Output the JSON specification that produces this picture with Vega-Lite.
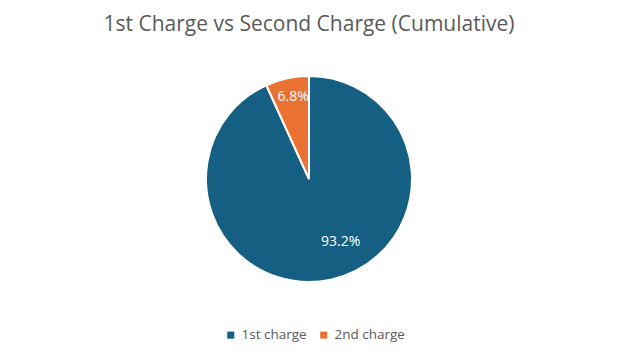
{
  "$schema": "https://vega.github.io/schema/vega-lite/v6.json",
  "autosize": "none",
  "width": 618,
  "height": 358,
  "padding": 0,
  "background": "white",
  "config": {"view": {"stroke": null}, "font": "Open Sans"},
  "title": {
    "text": "1st Charge vs Second Charge (Cumulative)",
    "orient": "top",
    "anchor": "middle",
    "frame": "group",
    "offset": -33,
    "dy": 19,
    "baseline": "alphabetic",
    "fontSize": 21,
    "fontWeight": "normal",
    "color": "#595959",
    "font": "Open Sans"
  },
  "data": {
    "values": [
      {"category": "1st charge", "share": 93.2, "label": "93.2%"},
      {"category": "2nd charge", "share": 6.8, "label": "6.8%"}
    ]
  },
  "encoding": {
    "theta": {"field": "share", "type": "quantitative", "stack": true},
    "order": {"field": "category", "type": "nominal"}
  },
  "layer": [
    {
      "mark": {"type": "arc", "radius": 103, "stroke": "white", "strokeWidth": 2},
      "encoding": {
        "color": {
          "field": "category",
          "type": "nominal",
          "scale": {"domain": ["1st charge", "2nd charge"], "range": ["#156082", "#E97132"]},
          "legend": {
            "title": null,
            "orient": "none",
            "direction": "horizontal",
            "legendX": 224,
            "legendY": 328,
            "symbolType": "square",
            "symbolSize": 50,
            "symbolStrokeWidth": 0,
            "labelFontSize": 13.5,
            "labelColor": "#595959",
            "labelFont": "Open Sans",
            "labelOffset": 4,
            "columnPadding": 10
          }
        }
      }
    },
    {
      "mark": {"type": "text", "radius": 84, "dx": 2, "fontSize": 14, "color": "white", "align": "center", "baseline": "middle", "font": "Open Sans"},
      "encoding": {
        "text": {"field": "label"},
        "opacity": {"condition": {"test": "datum.category == '2nd charge'", "value": 1}, "value": 0}
      }
    },
    {
      "mark": {"type": "text", "radius": 64, "dx": 18, "fontSize": 14, "color": "white", "align": "center", "baseline": "middle", "font": "Open Sans"},
      "encoding": {
        "text": {"field": "label"},
        "opacity": {"condition": {"test": "datum.category == '1st charge'", "value": 1}, "value": 0}
      }
    }
  ]
}
